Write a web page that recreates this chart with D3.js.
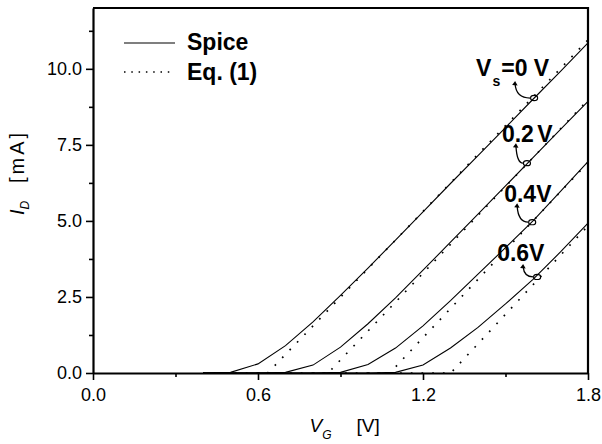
<!DOCTYPE html>
<html><head><meta charset="utf-8">
<script src="https://cdn.jsdelivr.net/npm/d3@7"></script>
<style>body{margin:0;background:#fff}svg{display:block}text{font-family:"Liberation Sans",Arial,Helvetica,sans-serif;fill:#000}</style>
</head><body>
<svg id="c" width="602" height="444"></svg>
<script>
// ---------- data ----------
const xTicks = [0.0, 0.6, 1.2, 1.8];
const xMinorTicks = [0.3, 0.9, 1.5];
const yTicks = [0.0, 2.5, 5.0, 7.5, 10.0];
const yMinorTicks = [1.25, 3.75, 6.25, 8.75, 11.25];

// Spice simulation, V_G grid common to all four source voltages
const spiceVG = [0.4,0.5,0.6,0.7,0.8,0.9,1.0,1.1,1.2,1.3,1.4,1.5,1.6,1.7,1.8];
const spiceVs0  = [0,0.02,0.3,0.9,1.68,2.55,3.45,4.37,5.3,6.23,7.15,8.07,9.0,9.92,10.85];
const spiceVs02 = [0,0,0,0.02,0.26,0.85,1.62,2.47,3.38,4.3,5.22,6.15,7.08,8.01,8.93];
const spiceVs04 = [0,0,0,0,0,0.02,0.28,0.82,1.55,2.38,3.25,4.12,5.0,5.97,6.95];
const spiceVs06 = [0,0,0,0,0,0,0,0.02,0.26,0.82,1.5,2.27,3.08,3.98,4.93];

// Eq. (1)
const eqVs0VG  = [0.4,0.635,0.7,0.8,0.9,1.0,1.1,1.2,1.3,1.4,1.5,1.6,1.7,1.8];
const eqVs0    = [0,0,0.61,1.55,2.49,3.43,4.37,5.31,6.25,7.19,8.13,9.07,10.01,10.95];
const eqVs02VG = [0.6,0.855,0.9,1.0,1.1,1.2,1.3,1.4,1.5,1.6,1.7,1.8];
const eqVs02   = [0,0,0.43,1.38,2.33,3.28,4.23,5.18,6.13,7.08,8.03,8.98];
const eqVs04VG = [0.8,1.079,1.1,1.2,1.3,1.4,1.5,1.6,1.7,1.8];
const eqVs04   = [0,0,0.2,1.16,2.12,3.08,4.04,5.0,5.96,6.92];
const eqVs06VG = [1.0,1.301,1.4,1.5,1.6,1.7,1.8];
const eqVs06   = [0,0,0.96,1.93,2.9,3.87,4.84];

const legendLabels = ["Spice", "Eq. (1)"];
const vsLabels = ["0 V", "0.2 V", "0.4V", "0.6V"];
// point on each curve that the annotation arrow marks
const markVG = [1.604, 1.578, 1.597, 1.615];
const markID = [9.04, 6.9, 4.96, 3.16];

// ---------- drawing ----------
const svg = d3.select('#c');
const x = d3.scaleLinear().domain([0, 1.8]).range([93, 588]);
const y = d3.scaleLinear().domain([0, 12]).range([373, 8]);

const line = d3.line().x(d => x(d[0])).y(d => y(d[1]));
const zip = (a, b) => a.map((v, i) => [v, b[i]]);

const spice = [spiceVs0, spiceVs02, spiceVs04, spiceVs06].map(s => zip(spiceVG, s));
const eq = [zip(eqVs0VG, eqVs0), zip(eqVs02VG, eqVs02), zip(eqVs04VG, eqVs04), zip(eqVs06VG, eqVs06)];

const curves = svg.append('g');
curves.selectAll('path.sp').data(spice).join('path').attr('class', 'sp')
  .attr('d', line).attr('fill', 'none').attr('stroke', '#000').attr('stroke-width', 1.1);
curves.selectAll('path.eq').data(eq).join('path').attr('class', 'eq')
  .attr('d', line).attr('fill', 'none').attr('stroke', '#000').attr('stroke-width', 1.7)
  .attr('stroke-dasharray', '1.7 9').attr('stroke-linecap', 'butt');

// axes
const fmt = d3.format('.1f');
svg.append('g').attr('transform', `translate(0,${y(0)})`)
  .call(d3.axisBottom(x).tickValues(xTicks).tickFormat(fmt).tickSize(7).tickSizeOuter(0).tickPadding(8));
svg.append('g').attr('transform', `translate(0,${y(0)})`)
  .call(d3.axisBottom(x).tickValues(xMinorTicks).tickFormat('').tickSize(4).tickSizeOuter(0))
  .select('.domain').remove();
svg.append('g').attr('transform', `translate(${x(0)},0)`)
  .call(d3.axisLeft(y).tickValues(yTicks).tickFormat(fmt).tickSize(7).tickSizeOuter(0).tickPadding(4));
svg.append('g').attr('transform', `translate(${x(0)},0)`)
  .call(d3.axisLeft(y).tickValues(yMinorTicks).tickFormat('').tickSize(4).tickSizeOuter(0))
  .select('.domain').remove();
svg.selectAll('.domain').attr('stroke-width', 2.2).attr('stroke', '#000');
svg.selectAll('.tick line').attr('stroke-width', 1.6).attr('stroke', '#000');
svg.selectAll('.tick text').attr('font-size', 18).attr('font-family', '"Liberation Sans",Arial,sans-serif').attr('fill', '#000');

// frame top/right
svg.append('path').attr('d', `M${x(0)},${y(12)}H${x(1.8)}V${y(0)}`)
  .attr('fill', 'none').attr('stroke', '#000').attr('stroke-width', 2.2);

// axis titles
const xt = svg.append('text').attr('y', 432).attr('font-size', 19);
xt.append('tspan').attr('x', x(0.9) - 31).attr('font-style', 'italic').text('V');
xt.append('tspan').attr('font-style', 'italic').attr('font-size', 12).attr('dy', 7).text('G');
xt.append('tspan').attr('x', x(0.9) + 16).attr('dy', -7).text('[V]');

const yt = svg.append('text').attr('transform', 'translate(24,0) rotate(-90)').attr('font-size', 20);
yt.append('tspan').attr('x', -215).attr('font-style', 'italic').text('I');
yt.append('tspan').attr('font-style', 'italic').attr('font-size', 12).attr('dy', 5).text('D');
yt.append('tspan').attr('x', -183).attr('dy', -5).attr('letter-spacing', 3).text('[mA]');

// legend
const lg = svg.append('g');
lg.append('line').attr('x1', 124).attr('x2', 175).attr('y1', 43).attr('y2', 43)
  .attr('stroke', '#000').attr('stroke-width', 1.1);
lg.append('line').attr('x1', 124).attr('x2', 175).attr('y1', 72).attr('y2', 72)
  .attr('stroke', '#000').attr('stroke-width', 1.5).attr('stroke-dasharray', '1.5 5.8');
lg.append('text').attr('x', 187).attr('y', 50).attr('font-size', 23).attr('font-weight', 'bold').text(legendLabels[0]);
lg.append('text').attr('x', 187).attr('y', 80).attr('font-size', 23).attr('font-weight', 'bold').text(legendLabels[1]);

// annotations (label offset and arrow start relative to marked point, px)
const annLayout = [
  {lx: -58, ly: -22, ax: -19, ay: -14},
  {lx: -25, ly: -21, ax: -11, ay: -17},
  {lx: -28, ly: -20, ax: -15, ay: -16},
  {lx: -40, ly: -16, ax: -14, ay: -10}
];
annLayout.forEach((a, i) => {
  const px = x(markVG[i]), py = y(markID[i]);
  const t = svg.append('text').attr('x', px + a.lx).attr('y', py + a.ly)
    .attr('font-size', 23).attr('font-weight', 'bold');
  if (i === 0) {
    t.append('tspan').text('V');
    t.append('tspan').attr('font-size', 14).attr('dy', 10).attr('dx', 1).text('s');
    t.append('tspan').attr('dy', -10).attr('dx', 1).text('=' + vsLabels[0]);
  } else {
    t.attr('word-spacing', -3).text(vsLabels[i]);
  }
  const sx = px + a.ax, sy = py + a.ay;
  const ex = px - 4, ey = py;
  svg.append('path').attr('d', `M${sx},${sy} Q${sx + 1},${ey} ${ex},${ey}`)
    .attr('fill', 'none').attr('stroke', '#000').attr('stroke-width', 1.3);
  svg.append('path').attr('d', `M${sx - 3},${sy + 1} L${sx},${sy - 3} L${sx + 2.5},${sy + 1.5}Z`)
    .attr('fill', '#000');
  svg.append('ellipse').attr('cx', px).attr('cy', py).attr('rx', 3.5).attr('ry', 2.6)
    .attr('fill', 'none').attr('stroke', '#000').attr('stroke-width', 1.2);
});
</script>
</body></html>
